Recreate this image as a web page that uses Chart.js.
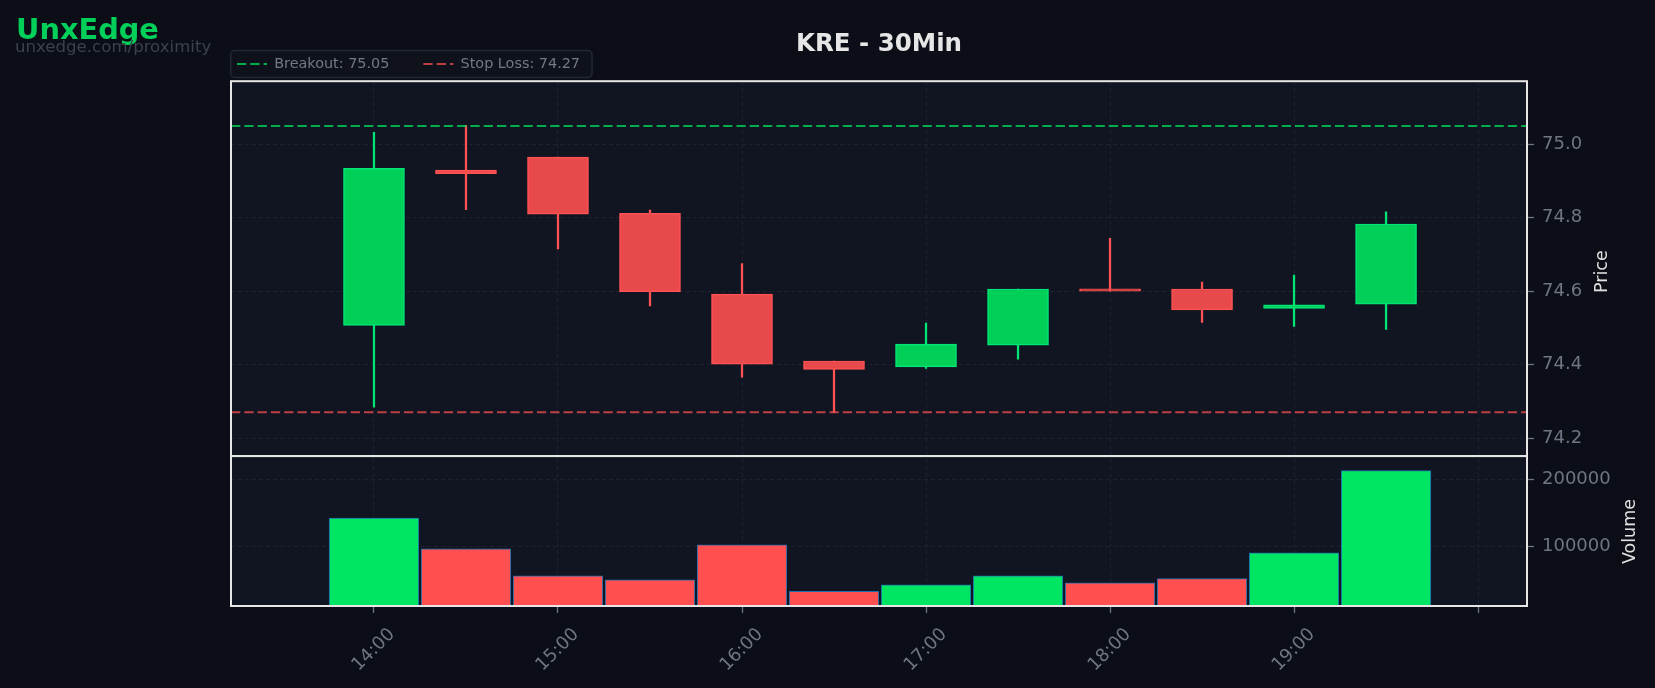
<!DOCTYPE html>
<html>
<head>
<meta charset="utf-8">
<script src="https://cdn.jsdelivr.net/npm/chart.js@4.4.1/dist/chart.umd.min.js"></script>
<style>
html,body{margin:0;padding:0;background:#0b0e16;width:1655px;height:688px;overflow:hidden;}
#wrap{position:relative;width:1655px;height:688px;}
canvas{position:absolute;left:0;top:0;}
.brand{position:absolute;left:16px;top:15px;font-family:'DejaVu Sans';font-weight:bold;font-size:28.8px;line-height:28.8px;color:#00d05a;white-space:nowrap;}
.url{position:absolute;left:15px;top:39px;font-family:'DejaVu Sans';font-size:16.6px;line-height:16.6px;color:#3b414e;white-space:nowrap;}
</style>
</head>
<body>
<div id="wrap">
<canvas id="c" width="1655" height="688"></canvas>
<div class="brand">UnxEdge</div>
<div class="url">unxedge.com/proximity</div>
</div>
<script>
// ---- data ----
const times   = ['14:00','14:30','15:00','15:30','16:00','16:30','17:00','17:30','18:00','18:30','19:00','19:30'];
const opens   = [74.507, 74.930, 74.965, 74.812, 74.592, 74.410, 74.394, 74.453, 74.602, 74.606, 74.553, 74.565];
const highs   = [75.033, 75.052, 74.965, 74.821, 74.675, 74.410, 74.513, 74.606, 74.744, 74.625, 74.644, 74.816];
const lows    = [74.284, 74.822, 74.715, 74.560, 74.366, 74.269, 74.390, 74.415, 74.600, 74.515, 74.504, 74.496];
const closes  = [74.935, 74.920, 74.810, 74.599, 74.401, 74.387, 74.456, 74.606, 74.600, 74.549, 74.563, 74.783];
const volumes = [141800, 96100, 55800, 49800, 102100, 32800, 42400, 55800, 45400, 51800, 90100, 212500];
const breakout = 75.05;
const stopLoss = 74.27;
const priceTicks  = [74.2, 74.4, 74.6, 74.8, 75.0];
const volumeTicks = [100000, 200000];
const xTickValues = [14, 15, 16, 17, 18, 19, 20];
const xTickLabels = ['14:00','15:00','16:00','17:00','18:00','19:00',''];
const xRange      = [13.223, 20.266];
const priceRange  = [74.151, 75.172];
const volumeRange = [11000, 234300];

// ---- styles ----
const FONT = "'DejaVu Sans'";
const PLOT_BG = '#111521';
const GRID = '#1e2230';
const TICK_C = '#6f7581';
const FRAME = '#e6e6e6';
const UP_BODY = '#00d058', UP_EDGE = '#00e676';
const DN_BODY = '#e84a4c', DN_EDGE = '#ff5252';
const VOL_UP = '#00e662', VOL_DN = '#ff4f4f';

const xs = times.map(t => { const [h, m] = t.split(':').map(Number); return h + m / 60; });
const isUp = closes.map((c, i) => c > opens[i]);

Chart.defaults.font.family = FONT;

const panelPlugin = {
  id: 'panels',
  beforeDraw(chart) {
    const {ctx, chartArea: a, scales} = chart;
    ctx.save();
    ctx.fillStyle = PLOT_BG;
    for (const id of ['y', 'yv']) {
      const s = scales[id];
      ctx.fillRect(a.left, s.top, a.right - a.left, s.bottom - s.top);
    }
    const lg = chart.legend;
    if (lg && lg.legendHitBoxes && lg.legendHitBoxes.length) {
      const hb = lg.legendHitBoxes;
      const f = hb[0], l = hb[hb.length - 1];
      const x0 = f.left - 6.3, x1 = l.left + l.width + 12;
      const y0 = f.top - 6.3, y1 = f.top + f.height + 6.3;
      ctx.beginPath();
      ctx.roundRect(x0, y0, x1 - x0, y1 - y0, 4);
      ctx.fillStyle = '#0f121b';
      ctx.fill();
      ctx.lineWidth = 1.5;
      ctx.strokeStyle = '#232836';
      ctx.stroke();
    }
    ctx.restore();
  },
  afterDraw(chart) {
    const {ctx, chartArea: a, scales} = chart;
    ctx.save();
    ctx.strokeStyle = FRAME;
    ctx.lineWidth = 2;
    for (const id of ['y', 'yv']) {
      const s = scales[id];
      ctx.strokeRect(a.left, s.top, a.right - a.left, s.bottom - s.top);
    }
    ctx.fillStyle = '#e0e0e0';
    ctx.font = "17.5px " + FONT;
    ctx.textAlign = 'center';
    ctx.textBaseline = 'alphabetic';
    const titles = [['y', 'Price', 80, 3], ['yv', 'Volume', 108, 0.5]];
    for (const [id, txt, dx, dy] of titles) {
      const s = scales[id];
      ctx.save();
      ctx.translate(a.right + dx, (s.top + s.bottom) / 2 + dy);
      ctx.rotate(-Math.PI / 2);
      ctx.fillText(txt, 0, 0);
      ctx.restore();
    }
    ctx.restore();
  }
};

const lineDash = [9.3, 4];

const chart = new Chart(document.getElementById('c'), {
  type: 'bar',
  data: {
    datasets: [
      {
        type: 'line', label: 'Breakout: ' + breakout.toFixed(2), yAxisID: 'y', xAxisID: 'x',
        data: [{x: xRange[0], y: breakout}, {x: xRange[1], y: breakout}],
        borderColor: 'rgba(0,200,83,0.85)', borderWidth: 2, borderDash: lineDash,
        pointRadius: 0, order: 0
      },
      {
        type: 'line', label: 'Stop Loss: ' + stopLoss.toFixed(2), yAxisID: 'y', xAxisID: 'x',
        data: [{x: xRange[0], y: stopLoss}, {x: xRange[1], y: stopLoss}],
        borderColor: 'rgba(255,82,82,0.72)', borderWidth: 2, borderDash: lineDash,
        pointRadius: 0, order: 0
      },
      {
        label: '', yAxisID: 'y', xAxisID: 'x', grouped: false, order: 1,
        data: xs.map((x, i) => ({x, y: [opens[i], closes[i]]})),
        backgroundColor: isUp.map(u => u ? UP_BODY : DN_BODY),
        borderColor: isUp.map(u => u ? UP_EDGE : DN_EDGE),
        borderWidth: 1.5, borderSkipped: false, barThickness: 61, minBarLength: 2.5
      },
      {
        label: '', yAxisID: 'y', xAxisID: 'x', grouped: false, order: 2,
        data: xs.map((x, i) => ({x, y: [lows[i], highs[i]]})),
        backgroundColor: isUp.map(u => u ? UP_EDGE : DN_EDGE),
        borderWidth: 0, barThickness: 1.6
      },
      {
        label: '', yAxisID: 'yv', xAxisID: 'x', grouped: false, order: 3,
        data: xs.map((x, i) => ({x, y: volumes[i]})),
        backgroundColor: isUp.map(u => u ? VOL_UP : VOL_DN),
        borderColor: '#1f6fae', borderWidth: 1, borderSkipped: false, barThickness: 89.6
      }
    ]
  },
  options: {
    responsive: false,
    animation: false,
    devicePixelRatio: 1,
    layout: {padding: {left: 203, right: 28, top: 0, bottom: 6}},
    plugins: {
      tooltip: {enabled: false},
      title: {
        display: true, text: 'KRE - 30Min', color: '#e6e6e6', fullSize: false,
        font: {size: 24.5, weight: 'bold', lineHeight: 1.2},
        padding: {top: 30.3, bottom: -36.9}
      },
      legend: {
        display: true, position: 'top', align: 'start', fullSize: true,
        labels: {
          color: '#737985', font: {size: 14.4}, padding: 34,
          usePointStyle: true, pointStyle: 'line', pointStyleWidth: 30,
          generateLabels: chart => {
            const items = Chart.defaults.plugins.legend.labels.generateLabels(chart);
            return items.filter(it => it.text !== '').map(it => {
              const ds = chart.data.datasets[it.datasetIndex];
              return Object.assign(it, {lineDash: ds.borderDash, strokeStyle: ds.borderColor, lineWidth: 2});
            });
          }
        }
      }
    },
    scales: {
      x: {
        type: 'linear', position: 'bottom', min: xRange[0], max: xRange[1], offset: false,
        afterBuildTicks: s => { s.ticks = xTickValues.map(v => ({value: v})); },
        afterFit: s => { s.height = 76; },
        ticks: {
          autoSkip: false, minRotation: 45, maxRotation: 45, color: TICK_C,
          font: {size: 18}, padding: 11, labelOffset: 18,
          callback: (v, i) => xTickLabels[i]
        },
        grid: {color: GRID, lineWidth: 1, offset: false, tickColor: TICK_C, tickLength: 7, tickWidth: 1.3, tickBorderDash: []},
        border: {display: false, dash: [4, 3]}
      },
      pad: {
        type: 'linear', position: 'left', display: true,
        afterFit: s => { s.width = 28; },
        ticks: {display: false},
        grid: {display: false, drawTicks: false},
        border: {display: false}
      },
      y: {
        type: 'linear', position: 'right', stack: 'panels', stackWeight: 2.5,
        min: priceRange[0], max: priceRange[1],
        afterBuildTicks: s => { s.ticks = priceTicks.map(v => ({value: v})); },
        afterFit: s => { s.width = 100; },
        ticks: {color: TICK_C, font: {size: 18}, padding: 8, callback: v => Number(v).toFixed(1)},
        grid: {color: GRID, lineWidth: 1, tickColor: TICK_C, tickLength: 7, tickWidth: 1.3, tickBorderDash: []},
        border: {display: false, dash: [4, 3]}
      },
      yv: {
        type: 'linear', position: 'right', stack: 'panels', stackWeight: 1,
        min: volumeRange[0], max: volumeRange[1],
        afterBuildTicks: s => { s.ticks = volumeTicks.map(v => ({value: v})); },
        afterFit: s => { s.width = 100; },
        ticks: {color: TICK_C, font: {size: 18}, padding: 8, callback: v => String(v)},
        grid: {color: GRID, lineWidth: 1, tickColor: TICK_C, tickLength: 7, tickWidth: 1.3, tickBorderDash: []},
        border: {display: false, dash: [4, 3]}
      }
    }
  },
  plugins: [panelPlugin]
});
</script>
</body>
</html>
